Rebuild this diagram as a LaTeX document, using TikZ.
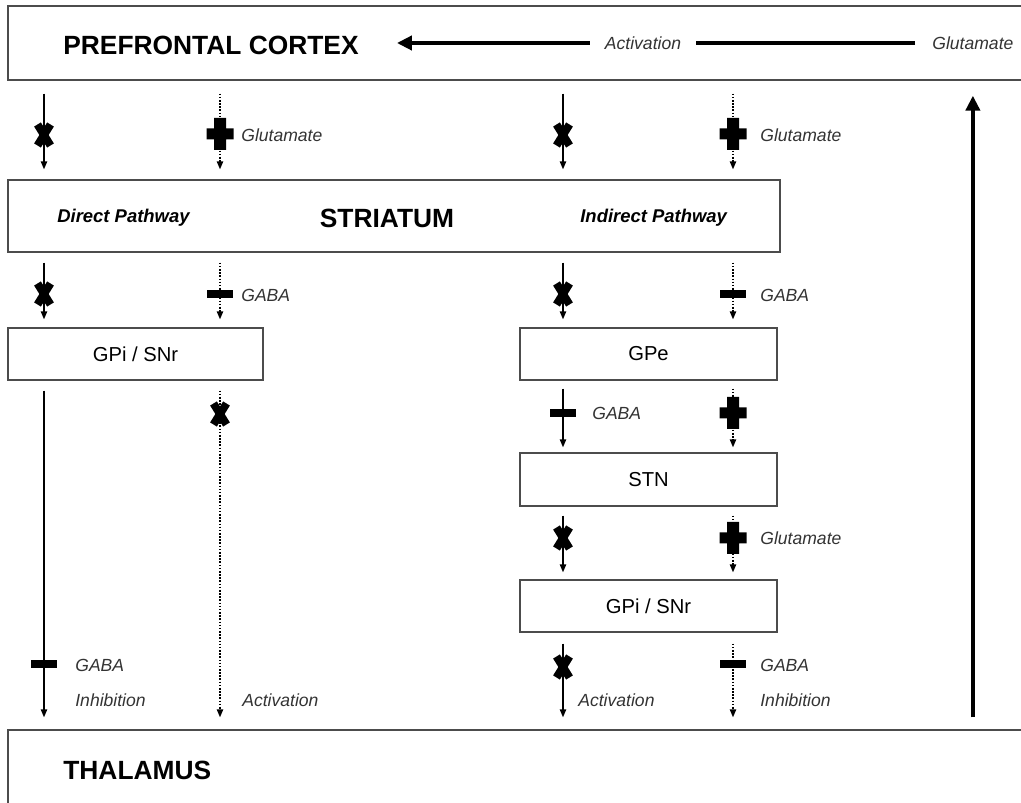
\documentclass[tikz,border=0pt]{standalone}
\usepackage{fontspec}
\setmainfont{Liberation Sans}
\usetikzlibrary{arrows.meta}
\tikzset{box/.style={draw=black!70, line width=0.8pt, inner sep=0pt, font=\fontsize{11.5}{14}\selectfont},
  title/.style={font=\fontsize{15}{18}\selectfont\bfseries, inner sep=0pt},
  pway/.style={font=\fontsize{10.5}{12}\selectfont\bfseries\itshape, anchor=west, inner sep=0pt},
  lbl/.style={font=\fontsize{10}{12}\selectfont\itshape, text=black!80, anchor=west, inner sep=0pt},
  sarr/.style={draw, line width=0.75pt, -{Triangle[length=4.5pt,width=3.6pt]}},
  darr/.style={sarr, dash pattern=on 0.9pt off 0.9pt},
  bigarr/.style={line width=2.3pt, -{Triangle[length=8.5pt,width=8pt]}},
  xmark/.pic={\draw[line width=4.5pt] (-6.5,-10.5) -- (6.5,10.5) (6.5,-10.5) -- (-6.5,10.5);},
  plusmark/.pic={\fill (-6,-16) rectangle (6,16) (-13.5,-5.5) rectangle (13.5,5.5);},
  minusmark/.pic={\fill (-13,-4) rectangle (13,4);},
}
\begin{document}
\begin{tikzpicture}[x=0.02cm, y=-0.02cm]
        \useasboundingbox (0,0) rectangle (1021,803);
        \clip (0,0) rectangle (1021,803);
        % Boxes
        \node[box, minimum width=20.64cm, minimum height=1.48cm] (pfc) at (524,43) {};
        \node[box, minimum width=15.44cm, minimum height=1.44cm] (str) at (394,216) {};
        \node[box, minimum width=5.10cm, minimum height=1.04cm] (gpil) at (135.5,354) {GPi / SNr};
        \node[box, minimum width=5.14cm, minimum height=1.04cm] (gpe) at (648.5,354) {GPe};
        \node[box, minimum width=5.14cm, minimum height=1.06cm] (stn) at (648.5,479.5) {STN};
        \node[box, minimum width=5.14cm, minimum height=1.04cm] (gpir) at (648.5,606) {GPi / SNr};
        \node[box, minimum width=20.64cm, minimum height=1.8cm] (thal) at (524,775) {};
        % Titles
        \node[title, anchor=west] (pfctxt) at (63,45) {PREFRONTAL CORTEX};
        \node[title] (strtxt) at (387,218) {STRIATUM};
        \node[pway] (direct) at (57,218) {Direct Pathway};
        \node[pway] (indirect) at (580,218) {Indirect Pathway};
        \node[title, anchor=west] (thaltxt) at (63,770) {THALAMUS};
        % Columns
        \coordinate (c1) at (44,0);
        \coordinate (c2) at (220,0);
        \coordinate (c3) at (563,0);
        \coordinate (c4) at (733,0);
        % Feedback loop
        \node[lbl] (glu0) at (932,43) {Glutamate};
        \draw[bigarr, shorten <=0.34cm, shorten >=0.76cm] (glu0.west) -- (pfctxt.east |- glu0.west);
        \node[lbl, anchor=center, fill=white, inner xsep=0.3cm, inner ysep=2pt] (act0) at (643,43) {Activation};
        \draw[bigarr, shorten <=0.24cm, shorten >=0.3cm] (thal.north -| glu0) -- (pfc.south -| glu0);
        % Paths
        \path[shorten <=0.26cm, shorten >=0.2cm]
        (pfc.south -| c1) edge[sarr] (str.north -| c1)
        (pfc.south -| c2) edge[darr] (str.north -| c2)
        (pfc.south -| c3) edge[sarr] (str.north -| c3)
        (pfc.south -| c4) edge[darr] (str.north -| c4);
        \path[shorten <=0.2cm, shorten >=0.16cm]
        (str.south -| c1) edge[sarr] (gpil.north -| c1)
        (str.south -| c2) edge[darr] (gpil.north -| c2)
        (str.south -| c3) edge[sarr] (gpe.north -| c3)
        (str.south -| c4) edge[darr] (gpe.north -| c4);
        \path[shorten <=0.2cm, shorten >=0.24cm]
        (gpil.south -| c1) edge[sarr] (thal.north -| c1)
        (gpil.south -| c2) edge[darr] (thal.north -| c2);
        \path[shorten <=0.16cm, shorten >=0.1cm]
        (gpe.south -| c3) edge[sarr] (stn.north -| c3)
        (gpe.south -| c4) edge[darr] (stn.north -| c4);
        \path[shorten <=0.18cm, shorten >=0.14cm]
        (stn.south -| c3) edge[sarr] (gpir.north -| c3)
        (stn.south -| c4) edge[darr] (gpir.north -| c4);
        \path[shorten <=0.22cm, shorten >=0.24cm]
        (gpir.south -| c3) edge[sarr] (thal.north -| c3)
        (gpir.south -| c4) edge[darr] (thal.north -| c4);
        % Marks
        \pic at (44,135) {xmark};
        \pic at (220,134) {plusmark};
        \pic at (563,135) {xmark};
        \pic at (733,134) {plusmark};
        \pic at (44,294) {xmark};
        \pic at (220,294) {minusmark};
        \pic at (563,294) {xmark};
        \pic at (733,294) {minusmark};
        \pic at (220,414) {xmark};
        \pic at (44,664) {minusmark};
        \pic at (563,413) {minusmark};
        \pic at (733,413) {plusmark};
        \pic at (563,538) {xmark};
        \pic at (733,538) {plusmark};
        \pic at (563,667) {xmark};
        \pic at (733,664) {minusmark};
        % Labels
        \node[lbl] (glu1) at (241,135) {Glutamate};
        \node[lbl] (glu2) at (760,135) {Glutamate};
        \node[lbl] (gaba1) at (241,295) {GABA};
        \node[lbl] (gaba2) at (760,295) {GABA};
        \node[lbl] (gaba3) at (592,413) {GABA};
        \node[lbl] (glu3) at (760,538) {Glutamate};
        \node[lbl] (gaba4) at (75,665) {GABA};
        \node[lbl] (inh1) at (75,700) {Inhibition};
        \node[lbl] (act1) at (242,700) {Activation};
        \node[lbl] (act2) at (578,700) {Activation};
        \node[lbl] (gaba5) at (760,665) {GABA};
        \node[lbl] (inh2) at (760,700) {Inhibition};
    \end{tikzpicture}
\end{document}
